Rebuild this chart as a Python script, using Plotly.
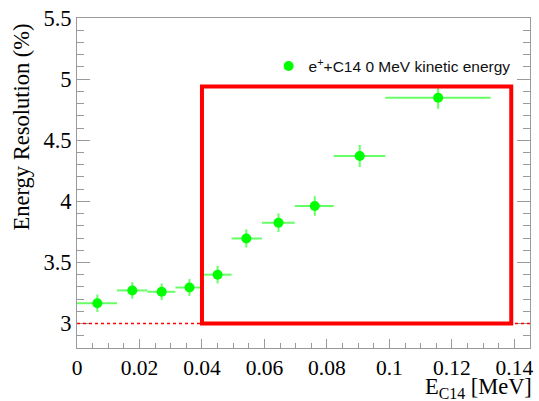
import plotly.graph_objects as go

# Data
x_center = [0.0065, 0.0177, 0.0271, 0.0360, 0.0450, 0.0542, 0.0645, 0.0761, 0.0905, 0.1156]
x_low    = [0.0000, 0.0128, 0.0225, 0.0315, 0.0398, 0.0495, 0.0592, 0.0697, 0.0822, 0.0987]
x_high   = [0.0128, 0.0225, 0.0315, 0.0398, 0.0495, 0.0592, 0.0697, 0.0822, 0.0987, 0.1324]
resolution = [3.166, 3.271, 3.260, 3.295, 3.400, 3.696, 3.825, 3.962, 4.371, 4.847]
res_err    = [0.071, 0.068, 0.068, 0.070, 0.072, 0.074, 0.076, 0.080, 0.091, 0.090]

box_x = [0.040, 0.139]
box_y = [3.0, 4.94]
ref_level = 3.0

x_range = [0.0, 0.145]
y_range = [2.8, 5.5]

err_plus = [h - c for h, c in zip(x_high, x_center)]
err_minus = [c - l for c, l in zip(x_center, x_low)]

fig = go.Figure()

fig.add_trace(go.Scatter(
    x=x_center, y=resolution,
    mode="markers",
    name="e<sup>+</sup>+C14 0 MeV kinetic energy",
    marker=dict(color="#00ff00", size=10, symbol="circle"),
    error_x=dict(type="data", symmetric=False, array=err_plus, arrayminus=err_minus,
                 color="#66ff66", thickness=2, width=0),
    error_y=dict(type="data", array=res_err, color="#66ff66", thickness=2, width=0),
))

# dotted reference line
fig.add_shape(type="line", xref="paper", yref="y", x0=0, x1=1, y0=ref_level, y1=ref_level,
              line=dict(color="#ff0000", width=1.5, dash="dot"), layer="above")
# red box
fig.add_shape(type="rect", xref="x", yref="y", x0=box_x[0], x1=box_x[1], y0=box_y[0], y1=box_y[1],
              line=dict(color="#ff0000", width=4), layer="above")

serif = "Liberation Serif, Times New Roman, serif"

fig.add_annotation(text="E<sub>C14</sub> [MeV]", xref="paper", yref="paper",
                   x=1.0, y=0, xanchor="right", yanchor="top", yshift=-24, xshift=4,
                   showarrow=False, font=dict(family=serif, size=22.5, color="black"))
fig.add_annotation(text="Energy Resolution (%)", xref="paper", yref="paper",
                   x=0, y=1, xanchor="center", yanchor="top", xshift=-56, yshift=-4,
                   textangle=-90, showarrow=False, font=dict(family=serif, size=22.5, color="black"))

fig.update_layout(
    width=539, height=401,
    margin=dict(l=77, r=6, t=15, b=53),
    paper_bgcolor="white", plot_bgcolor="white",
    showlegend=True,
    legend=dict(x=0.423, y=0.853, xanchor="left", yanchor="middle",
                bgcolor="rgba(0,0,0,0)", borderwidth=0,
                font=dict(family="Liberation Sans, Arial, sans-serif", size=15.5, color="#111111")),
    xaxis=dict(range=x_range, showgrid=False, zeroline=False,
               showline=True, linecolor="#9a9a9a", linewidth=1, mirror=True,
               ticks="inside", ticklen=9, tickcolor="#9a9a9a", tickwidth=1,
               dtick=0.02, tick0=0, tickformat="~g",
               minor=dict(ticks="inside", ticklen=5, dtick=0.005, tickcolor="#9a9a9a", showgrid=False),
               tickfont=dict(family=serif, size=21.5, color="black")),
    yaxis=dict(range=y_range, showgrid=False, zeroline=False,
               showline=True, linecolor="#9a9a9a", linewidth=1, mirror="ticks",
               ticks="inside", ticklen=13, tickcolor="#9a9a9a", tickwidth=1,
               dtick=0.5, tick0=3,
               minor=dict(ticks="inside", ticklen=7, dtick=0.1, tickcolor="#9a9a9a", showgrid=False),
               tickfont=dict(family=serif, size=22.5, color="black")),
)

fig.write_html("out.html")
